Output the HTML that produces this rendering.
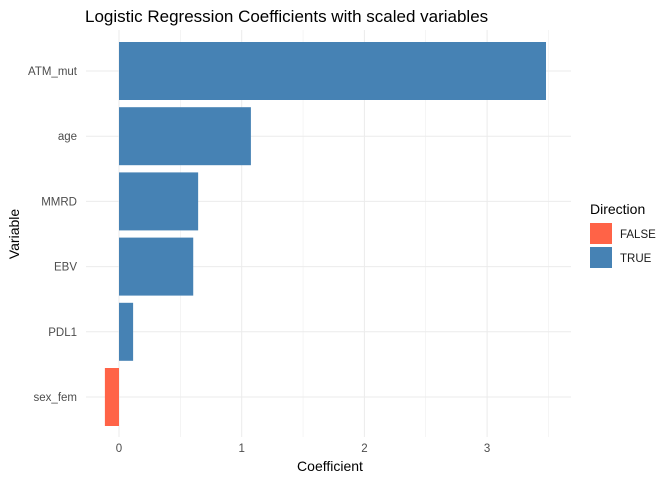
<!DOCTYPE html>
<html><head><meta charset="utf-8"><style>
body{margin:0;background:#fff;font-family:"Liberation Sans",sans-serif;}
</style></head><body>
<svg id="c" width="672" height="480" font-family="Liberation Sans, sans-serif">
<text x="85" y="22" font-size="17" fill="#000">Logistic Regression Coefficients with scaled variables</text>
<g id="grid"></g><g id="bars"></g><g id="axes"></g>
<text x="330" y="471" font-size="14" text-anchor="middle" fill="#000">Coefficient</text>
<text transform="translate(19,234) rotate(-90)" font-size="14" text-anchor="middle" fill="#000">Variable</text>
<g>
<text x="590" y="214" font-size="14" fill="#000">Direction</text>
<rect x="590" y="223" width="22" height="21" fill="#FF6347"/>
<text x="620" y="238" font-size="11.5" fill="#1a1a1a">FALSE</text>
<rect x="590" y="247" width="22" height="21" fill="#4682B4"/>
<text x="620" y="262" font-size="11.5" fill="#1a1a1a">TRUE</text>
</g>
</svg>
<script>
const categories=["ATM_mut","age","MMRD","EBV","PDL1","sex_fem"];
const values=[3.48,1.075,0.645,0.605,0.115,-0.115];
const xTicks=[0,1,2,3];
const ns="http://www.w3.org/2000/svg";
const x0=119,xs=122.7,yTop=71,yStep=65.2,bh=58,pl=86,pr=571,pt=30,pb=437;
const X=v=>x0+v*xs, Y=i=>yTop+i*yStep;
function mk(t,a,p){const e=document.createElementNS(ns,t);for(const k in a)e.setAttribute(k,a[k]);p.appendChild(e);return e;}
const g=document.getElementById('grid'),b=document.getElementById('bars'),ax=document.getElementById('axes');
for(let v=0;v<=3.5;v+=0.5){const l=mk('line',{x1:X(v),x2:X(v),y1:pt,y2:pb,stroke:'#ebebeb','stroke-width':Number.isInteger(v)?1:0.5},g);

}
categories.forEach((c,i)=>{const l=mk('line',{x1:pl,x2:pr,y1:Y(i),y2:Y(i),stroke:'#ebebeb'},g);


const v=values[i];
const r=mk('rect',{x:Math.min(X(0),X(v)),y:Y(i)-bh/2,width:Math.abs(X(v)-X(0)),height:bh,fill:v>=0?'#4682B4':'#FF6347'},b);


const t=mk('text',{x:77,y:Y(i)+4,'font-size':11.5,fill:'#4d4d4d','text-anchor':'end'},ax);t.textContent=c;

});
xTicks.forEach(v=>{const t=mk('text',{x:X(v),y:452,'font-size':11.5,fill:'#4d4d4d','text-anchor':'middle'},ax);t.textContent=v;

});
</script>
</body></html>
